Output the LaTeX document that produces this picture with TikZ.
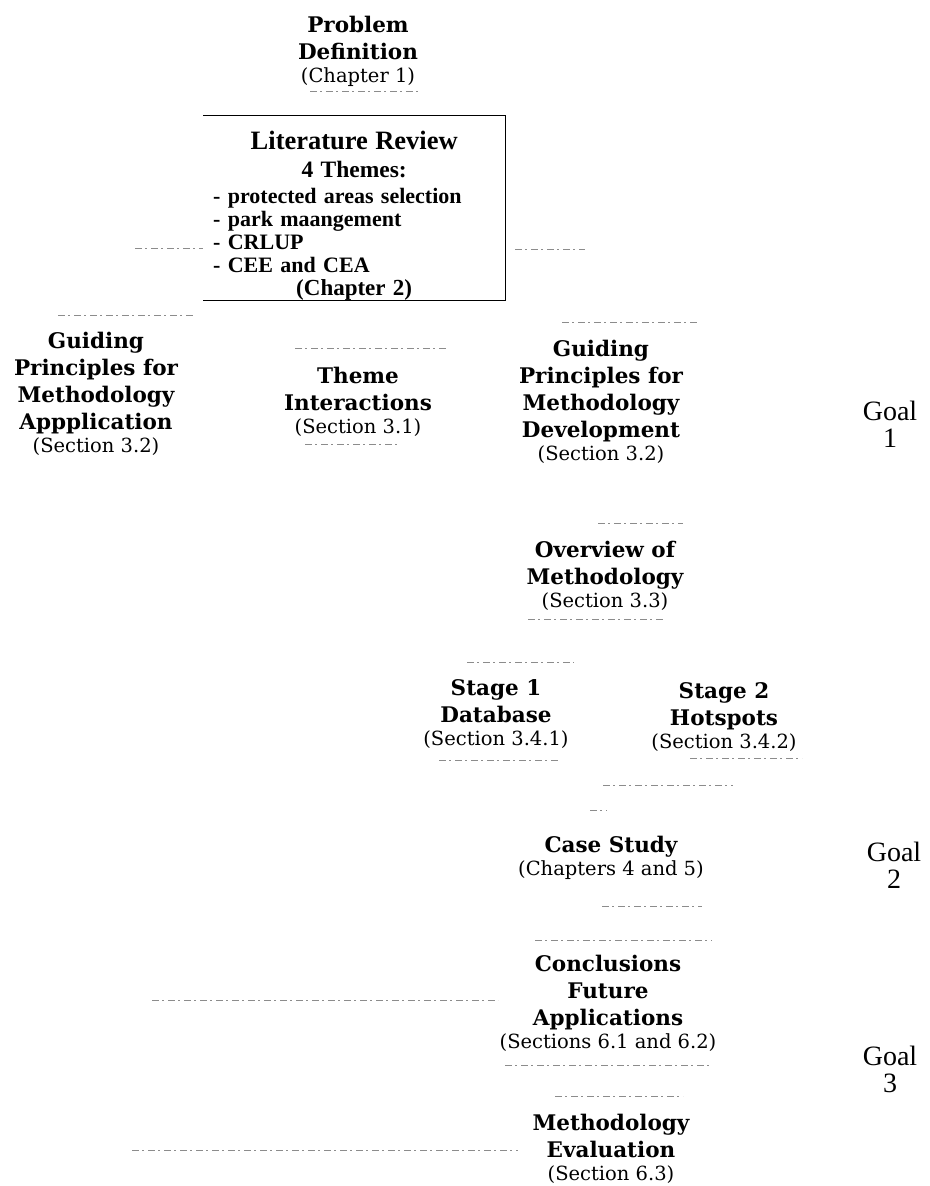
\documentclass[tikz,border=0pt]{standalone}
\usepackage{fontspec}
\setmainfont{DejaVu Serif}
\newfontfamily\litfont{Liberation Serif}
\newcommand{\secfont}{\fontsize{19.5}{22}\selectfont\mdseries}

\begin{document}
\begin{tikzpicture}[x=1pt, y=-1pt,
    topic/.style={align=center, inner sep=0pt, anchor=base,
                  font=\fontsize{21.5}{27}\selectfont\bfseries},
    goal/.style={align=center, inner sep=0pt, anchor=base,
                 font=\litfont\fontsize{28}{27}\selectfont},
    litbox/.style={inner xsep=10pt, inner ysep=0pt, text width=282pt,
                   align=left, anchor=north west,
                   font=\litfont\bfseries\fontsize{22}{23}\selectfont},
    faded/.style={draw=black!45, line width=0.7pt,
                  dash pattern=on 7pt off 3pt on 2pt off 4pt}]
  \useasboundingbox (0,0) rectangle (929,1186);

  \node[topic] (prob) at (358,82) {Problem\\Definition\\[-4pt]{\secfont (Chapter 1)}};
  \node[litbox] (lit) at (203,115) {%
    \makebox[\linewidth]{\rule{0pt}{34pt}\fontsize{26.5}{25}\selectfont Literature Review}\\[5pt]
    \makebox[\linewidth]{\fontsize{23.5}{23}\selectfont 4 Themes:}\\[3pt]
    - protected areas selection\\
    - park maangement\\
    - CRLUP\\
    - CEE and CEA\\
    \makebox[\linewidth]{\fontsize{23}{23}\selectfont (Chapter 2)}};
  \draw (lit.north west) -- (lit.north east) -- (lit.south east) -- (lit.south west);

  \node[topic] (guidapp) at (96,452) {Guiding\\Principles for\\Methodology\\Appplication\\[-4pt]{\secfont (Section 3.2)}};
  \node[topic] (theme) at (358,433) {Theme\\Interactions\\[-4pt]{\secfont (Section 3.1)}};
  \node[topic] (guiddev) at (601,460) {Guiding\\Principles for\\Methodology\\Development\\[-4pt]{\secfont (Section 3.2)}};
  \node[goal] (goal1) at (890,447) {Goal\\1};

  \node[topic] (overview) at (605,607) {Overview of\\Methodology\\[-4pt]{\secfont (Section 3.3)}};
  \node[topic] (stage1) at (496,745) {Stage 1\\Database\\[-4pt]{\secfont (Section 3.4.1)}};
  \node[topic] (stage2) at (724,748) {Stage 2\\Hotspots\\[-4pt]{\secfont (Section 3.4.2)}};

  \node[topic] (casestudy) at (611,875) {Case Study\\[-4pt]{\secfont (Chapters 4 and 5)}};
  \node[goal] (goal2) at (894,888) {Goal\\2};

  \node[topic] (concl) at (608,1048) {Conclusions\\Future\\Applications\\[-4pt]{\secfont (Sections 6.1 and 6.2)}};
  \node[goal] (goal3) at (890,1092) {Goal\\3};
  \node[topic] (evalu) at (611,1180) {Methodology\\Evaluation\\[-4pt]{\secfont (Section 6.3)}};

  \coordinate (crlupin) at (135,248);
  \coordinate (crlupout) at (585,249);
  \coordinate (conclin) at (152,1000);
  \coordinate (conclend) at (498,1000);
  \coordinate (evalin) at (132,1150);
  \coordinate (evalend) at (518,1150);
  \draw[faded] (crlupin) -- (lit.west |- crlupin);
  \draw[faded] (lit.east |- crlupout) ++(10,0) -- (crlupout);
  \draw[faded] (conclin) -- (conclend);
  \draw[faded] (evalin) -- (evalend);

  \foreach \y/\xa/\xb in {91/310/418, 315/58/193, 348/295/447, 444/305/398,
      322/562/698, 523/598/683, 619/528/665, 662/467/574, 760/439/560,
      758/690/802, 785/603/733, 810/590/607, 906/602/702, 940/535/712,
      1065/505/712, 1096/555/683}
    \draw[faded] (\xa,\y) -- (\xb,\y);
\end{tikzpicture}
\end{document}
